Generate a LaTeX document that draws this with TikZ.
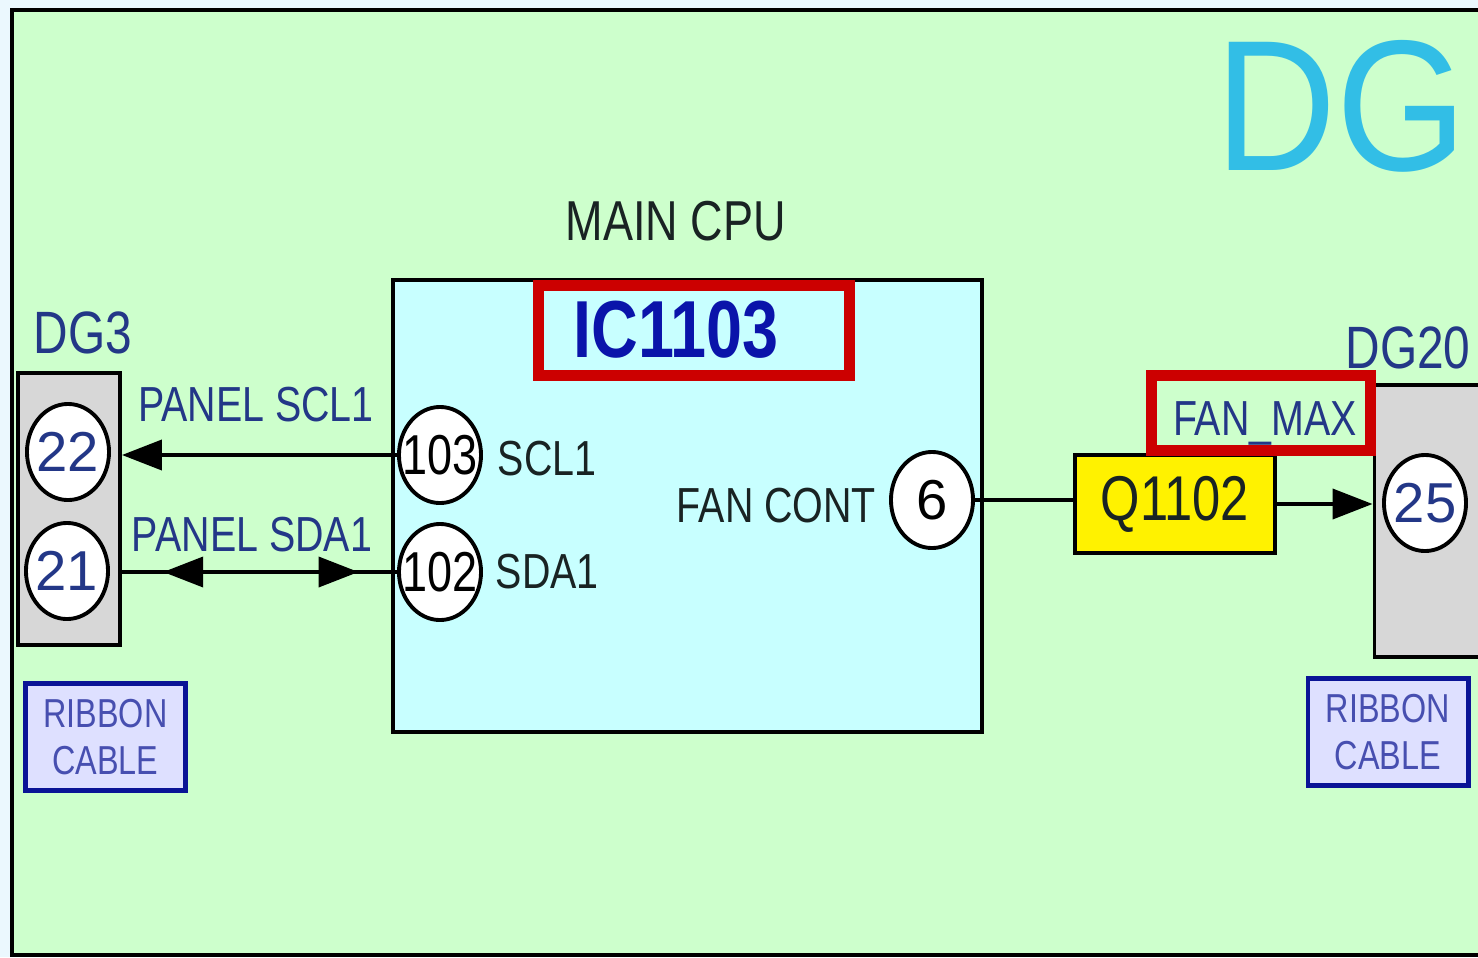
\documentclass[tikz,border=0pt]{standalone}
\usepackage{fontspec}
\setmainfont{Liberation Sans}[FakeStretch=0.8]
\newfontfamily\widefont{Liberation Sans}
\usetikzlibrary{arrows.meta,positioning,shapes.geometric,decorations.markings}
\definecolor{boardgreen}{RGB}{205,255,204}
\definecolor{cpucyan}{RGB}{200,255,255}
\definecolor{conngray}{RGB}{215,215,215}
\definecolor{labelblue}{RGB}{35,55,135}
\definecolor{icblue}{RGB}{10,20,170}
\definecolor{dgcyan}{RGB}{50,190,230}
\definecolor{markred}{RGB}{204,0,0}
\definecolor{ribbonfill}{RGB}{222,224,255}
\definecolor{ribbonblue}{RGB}{10,20,150}
\definecolor{inkdark}{RGB}{25,35,35}
\newcommand{\pintxt}[1]{\makebox[0pt]{#1}}

\begin{document}
\begin{tikzpicture}[x=0.01cm, y=-0.01cm,
          conn/.style={draw, line width=1.1pt, fill=conngray, inner sep=0pt},
          pinnum/.style={ellipse, draw, line width=1.1pt, fill=white,
                      minimum width=0.82cm, minimum height=0.96cm, inner sep=0pt,
                      font=\fontsize{16pt}{18pt}\selectfont},
          bluelbl/.style={text=labelblue, inner sep=0pt},
          sig/.style={text=inkdark, inner sep=0pt, font=\fontsize{14pt}{16pt}\selectfont},
          redmark/.style={draw=markred, line width=3.1pt, inner sep=0pt},
          ribbon/.style={draw=ribbonblue, line width=1.4pt, fill=ribbonfill,
                      minimum width=1.6cm, minimum height=1.07cm, align=center,
                      text=ribbonblue!75!white, font=\fontsize{11.5pt}{13.5pt}\selectfont},
          arr/.style={-{Triangle[length=0.4cm, width=0.3cm]}, line width=1.1pt}
        ]
          \useasboundingbox (0,0) rectangle (1478,957);
          \fill[white!92!cyan] (0,0) rectangle (1478,957);
          \draw[line width=0.9pt, fill=boardgreen] (12,10) rectangle (1520,955);
          \node[text=dgcyan, inner sep=0pt, font=\widefont\fontsize{53pt}{56pt}\selectfont] (dg) at (1341,106) {\scalebox{0.9}[1]{DG}};

          % main cpu block
          \node[draw, line width=1.1pt, fill=cpucyan, minimum width=5.89cm,
                minimum height=4.52cm, inner sep=0pt] (cpu) at (687.5,506) {};
          \node[text=inkdark, inner sep=0pt, font=\fontsize{16pt}{18pt}\selectfont] (cpulbl) at (676,221) {MAIN CPU};
          \node[redmark, minimum width=3.11cm, minimum height=0.9cm] (icmark) at (694,330.5) {};
          \node[text=icblue, inner sep=0pt, font=\fontsize{23pt}{26pt}\bfseries\selectfont] (ic) at (676,330) {IC1103};
          \node[pinnum] (p103) at (440,455) {\pintxt{103}};
          \node[pinnum] (p102) at (440,572) {\pintxt{102}};
          \node[sig, right=4pt of p103.east, yshift=-1pt] (scl) {SCL1};
          \node[sig, right=3.5pt of p102.east] (sda) {SDA1};
          \node[pinnum, font=\widefont\fontsize{16pt}{18pt}\selectfont] (p6) at (932,500) {\pintxt{6}};
          \node[sig, left=3.5pt of p6.west, yshift=-1.5pt] (fancont) {FAN CONT};

          % connector DG3
          \node[conn, minimum width=1.02cm, minimum height=2.72cm] (dg3) at (69,509) {};
          \node[bluelbl, font=\fontsize{17pt}{19pt}\selectfont] (dg3lbl) at (83,333) {DG3};
          \node[pinnum, text=labelblue, font=\widefont\fontsize{16pt}{18pt}\selectfont] (c22) at (68,452) {\pintxt{22}};
          \node[pinnum, text=labelblue, font=\widefont\fontsize{16pt}{18pt}\selectfont] (c21) at (67,571) {\pintxt{21}};
          \node[bluelbl, font=\fontsize{14pt}{16pt}\selectfont] (scllbl) at (256,405) {PANEL SCL1};
          \node[bluelbl, font=\fontsize{14pt}{16pt}\selectfont] (sdalbl) at (252,535) {PANEL SDA1};
          \node[ribbon] (rib1) at (105.5,737) {RIBBON\\CABLE};

          % connector DG20
          \node[conn, minimum width=1.15cm, minimum height=2.72cm] (dg20) at (1432,521) {};
          \node[bluelbl, font=\fontsize{17pt}{19pt}\selectfont] (dg20lbl) at (1408,348) {DG20};
          \node[pinnum, text=labelblue, font=\widefont\fontsize{16pt}{18pt}\selectfont] (c25) at (1425,503) {\pintxt{25}};
          \node[ribbon] (rib2) at (1388,732) {RIBBON\\CABLE};
          \node[draw, line width=1.1pt, fill=yellow, minimum width=2cm, minimum height=0.98cm,
                inner sep=0pt, text=inkdark, font=\fontsize{18pt}{20pt}\selectfont] (q1102) at (1175,504) {Q1102};
          \node[redmark, minimum width=2.19cm, minimum height=0.75cm] (fanmark) at (1261,413) {};
          \node[bluelbl, font=\fontsize{14pt}{16pt}\selectfont] (fanmax) at (1265,423) {FAN\_MAX};

          % signal lines
          \draw[arr] (p103.west) -- (p103.west -| dg3.east);
          \draw[line width=1.1pt, postaction={decorate}, decoration={markings,
                mark=at position 0.15 with {\arrowreversed{Triangle[length=0.4cm, width=0.3cm]}},
                mark=at position 0.86 with {\arrow{Triangle[length=0.4cm, width=0.3cm]}}}]
            (p102.west -| dg3.east) -- (p102.west);
          \draw[line width=1.1pt] (p6.east) -- (q1102.west |- p6.east);
          \draw[arr] (q1102.east) -- (q1102.east -| dg20.west);
        \end{tikzpicture}
\end{document}
